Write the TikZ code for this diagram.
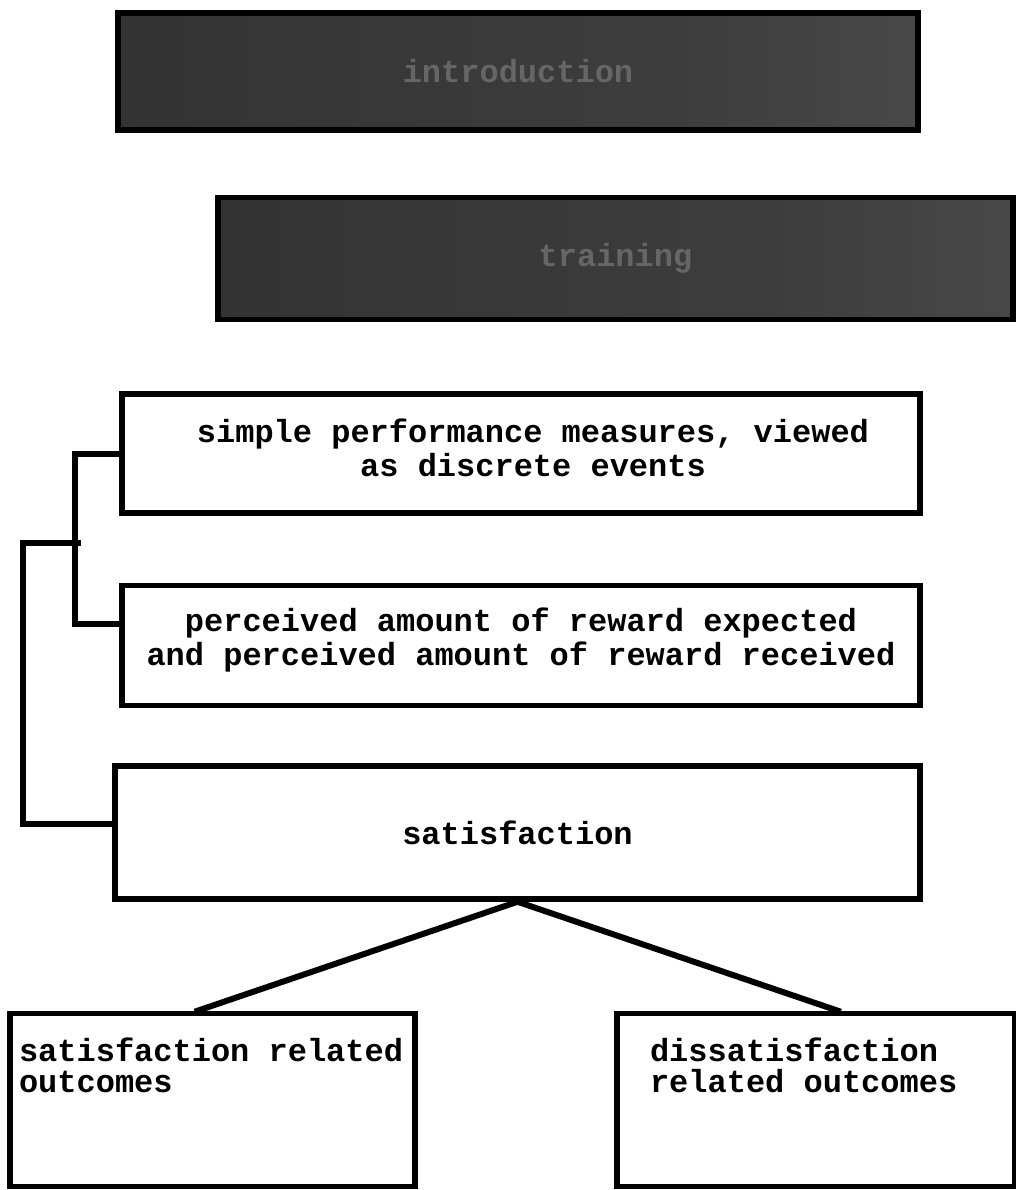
\documentclass[tikz,border=0pt]{standalone}
\usepackage{fontspec}
\newfontfamily\typefont{Liberation Mono}[WordSpace={1,0,0}]
\usepackage{tikz}
\usetikzlibrary{positioning}

\pgfdeclarehorizontalshading{darkfade}{100bp}{color(0bp)=(black!94); color(6bp)=(black!82); color(60bp)=(black!76); color(88bp)=(black!68); color(100bp)=(black!32)}

\tikzset{
  box/.style={draw, line width=5.5pt, rectangle, align=center, inner sep=0pt,
    font=\typefont\bfseries\fontsize{32}{34}\selectfont,
    execute at begin node={\spaceskip=0pt\relax\xspaceskip=0pt\relax}},
  darkbox/.style={box, shade, shading=darkfade, text=black!60},
  sidebox/.style={box, align=left, inner xsep=9pt, text depth=100pt,
    font=\typefont\bfseries\fontsize{32}{31}\selectfont},
  link/.style={line width=6pt, line cap=rect}
}

\begin{document}
\begin{tikzpicture}[x=1pt, y=-1pt]
\useasboundingbox (0,0) rectangle (1015,1190);

% two shaded header blocks
\node[darkbox, minimum width=800pt, minimum height=117pt] (intro) at (518,71.5) {introduction};
\node[darkbox, minimum width=795pt, minimum height=122pt, below=62pt of intro, xshift=97.5pt] (train) {training};

% main chain
\node[box, text width=798pt, text depth=46pt, minimum height=119pt, below=69pt of train, xshift=-94.5pt] (measures)
  {\hspace*{24pt}simple performance measures, viewed\\\hspace*{24pt}as discrete events};
\node[box, text width=798pt, text depth=52pt, minimum height=120pt, below=67pt of measures] (reward)
  {perceived amount of reward expected\\and perceived amount of reward received};
\node[box, minimum width=805pt, minimum height=133pt, below=55pt of reward, xshift=-3.5pt] (satis) {satisfaction};

% outcomes
\node[sidebox, text width=387pt, minimum height=173pt, below=109pt of satis, xshift=-305pt] (posout)
  {satisfaction related\\outcomes};
\node[sidebox, text width=356pt, inner xsep=21pt, minimum height=173pt, below=109pt of satis, xshift=298.5pt] (negout)
  {\hspace*{12pt}dissatisfaction\\\hspace*{12pt}related outcomes};

% bracket on the left
\draw[link] (measures.west) -- ++(-44,0) |- ([yshift=22pt]reward.west);
\coordinate (fork) at (78,543);
\draw[link] (fork) -- ++(-55,0) |- ([yshift=9pt]satis.west);

% split
\draw[link] (satis.south) -- ([xshift=-15pt]posout.north);
\draw[link] (satis.south) -- ([xshift=22pt]negout.north);
\end{tikzpicture}
\end{document}
